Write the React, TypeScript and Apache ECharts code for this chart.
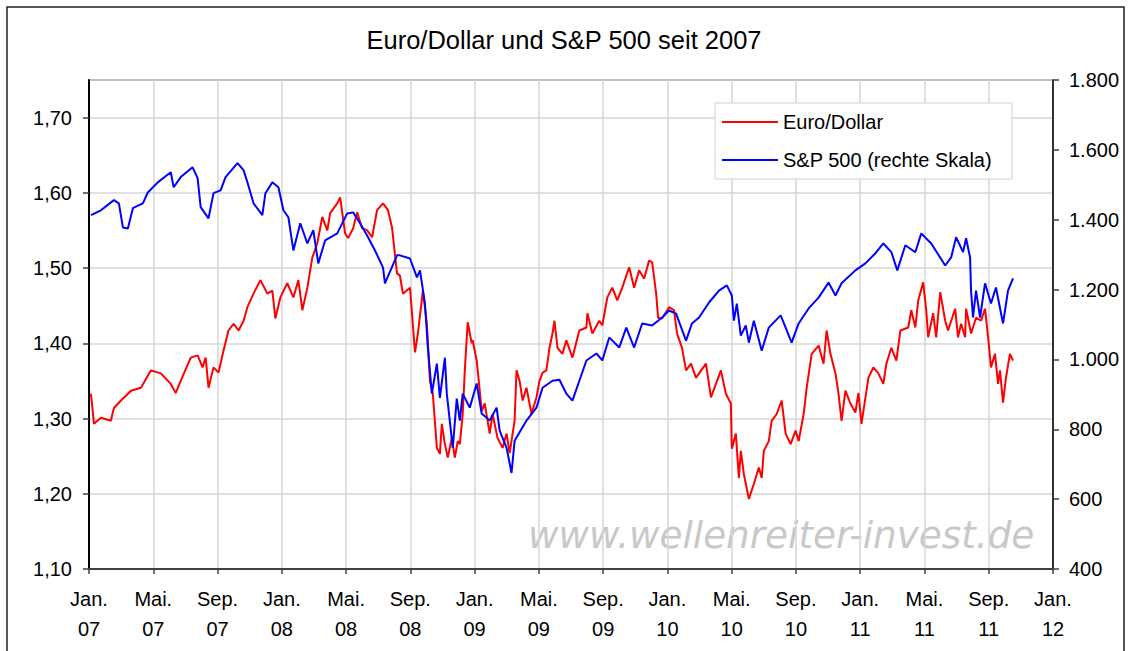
import React, { useEffect, useRef } from "react";
import * as echarts from "echarts";

const FONT = '"Liberation Sans", Arial, Helvetica, sans-serif';

const titleText = "Euro/Dollar und S&P 500 seit 2007";
const seriesNames = ["Euro/Dollar", "S&P 500 (rechte Skala)"];
const watermark = "www.wellenreiter-invest.de";

// x tick labels every 4 months, starting Jan. 2007 (x = months since Jan. 2007)
const xTickLabels = [
  "Jan.\n07", "Mai.\n07", "Sep.\n07",
  "Jan.\n08", "Mai.\n08", "Sep.\n08",
  "Jan.\n09", "Mai.\n09", "Sep.\n09",
  "Jan.\n10", "Mai.\n10", "Sep.\n10",
  "Jan.\n11", "Mai.\n11", "Sep.\n11",
  "Jan.\n12",
];

// Euro/Dollar: [months since Jan 2007, rate]
const eurUsd: [number, number][] = [
  [0.12, 1.333], [0.31, 1.293], [0.74, 1.301], [1.36, 1.297], [1.55, 1.314], [1.99, 1.324],
  [2.61, 1.337], [3.23, 1.341], [3.85, 1.364], [4.47, 1.36], [5.09, 1.346], [5.4, 1.334],
  [5.71, 1.35], [6.33, 1.381], [6.76, 1.384], [7.07, 1.368], [7.26, 1.381], [7.44, 1.341],
  [7.75, 1.368], [8.06, 1.361], [8.37, 1.39], [8.68, 1.417], [9.0, 1.426], [9.31, 1.417],
  [9.62, 1.43], [9.86, 1.448], [10.24, 1.466], [10.67, 1.484], [11.1, 1.466], [11.41, 1.47],
  [11.6, 1.433], [11.91, 1.461], [12.34, 1.48], [12.72, 1.461], [13.03, 1.484], [13.28, 1.444],
  [13.59, 1.474], [13.9, 1.514], [14.21, 1.533], [14.52, 1.568], [14.83, 1.55], [15.01, 1.573],
  [15.45, 1.586], [15.63, 1.594], [15.94, 1.546], [16.13, 1.54], [16.44, 1.553], [16.69, 1.574],
  [17.0, 1.553], [17.31, 1.55], [17.62, 1.541], [17.93, 1.577], [18.3, 1.586], [18.61, 1.577],
  [18.86, 1.554], [19.17, 1.493], [19.35, 1.49], [19.54, 1.466], [19.98, 1.474], [20.29, 1.388],
  [20.47, 1.413], [20.78, 1.47], [21.03, 1.426], [21.22, 1.35], [21.4, 1.333], [21.65, 1.261],
  [21.84, 1.253], [21.96, 1.293], [22.15, 1.266], [22.33, 1.248], [22.58, 1.274], [22.77, 1.248],
  [22.95, 1.27], [23.08, 1.266], [23.26, 1.306], [23.39, 1.364], [23.57, 1.428], [23.82, 1.4],
  [23.88, 1.404], [24.13, 1.377], [24.26, 1.35], [24.44, 1.31], [24.63, 1.32], [24.94, 1.28],
  [25.12, 1.306], [25.43, 1.274], [25.74, 1.261], [25.99, 1.28], [26.18, 1.254], [26.49, 1.297],
  [26.61, 1.364], [26.8, 1.35], [26.99, 1.324], [27.23, 1.341], [27.54, 1.306], [27.85, 1.328],
  [28.04, 1.35], [28.23, 1.361], [28.47, 1.364], [28.66, 1.394], [28.85, 1.413], [28.97, 1.43],
  [29.16, 1.394], [29.47, 1.386], [29.71, 1.404], [30.09, 1.381], [30.52, 1.417], [30.96, 1.421],
  [31.02, 1.44], [31.33, 1.413], [31.76, 1.43], [31.95, 1.424], [32.26, 1.461], [32.57, 1.474],
  [32.88, 1.457], [33.19, 1.474], [33.62, 1.501], [33.93, 1.474], [34.24, 1.497], [34.55, 1.486],
  [34.86, 1.51], [35.05, 1.508], [35.3, 1.466], [35.42, 1.434], [35.67, 1.433], [36.1, 1.448],
  [36.41, 1.444], [36.6, 1.413], [36.91, 1.394], [37.16, 1.364], [37.47, 1.373], [37.78, 1.354],
  [37.97, 1.36], [38.4, 1.373], [38.71, 1.328], [39.02, 1.346], [39.33, 1.364], [39.64, 1.333],
  [39.95, 1.32], [40.01, 1.26], [40.26, 1.28], [40.45, 1.221], [40.57, 1.257], [40.76, 1.226],
  [41.07, 1.193], [41.38, 1.213], [41.69, 1.235], [41.87, 1.221], [42.0, 1.257], [42.31, 1.27],
  [42.49, 1.297], [42.8, 1.306], [43.11, 1.324], [43.36, 1.28], [43.67, 1.266], [43.98, 1.284],
  [44.17, 1.27], [44.48, 1.306], [44.67, 1.341], [44.98, 1.386], [45.41, 1.397], [45.72, 1.373],
  [45.91, 1.417], [46.15, 1.386], [46.46, 1.36], [46.65, 1.333], [46.84, 1.297], [47.08, 1.337],
  [47.39, 1.32], [47.7, 1.308], [47.89, 1.334], [48.08, 1.293], [48.51, 1.354], [48.82, 1.368],
  [49.13, 1.36], [49.44, 1.346], [49.63, 1.373], [49.94, 1.394], [50.25, 1.377], [50.5, 1.417],
  [50.99, 1.421], [51.18, 1.444], [51.43, 1.421], [51.61, 1.457], [51.92, 1.481], [52.11, 1.444],
  [52.23, 1.408], [52.54, 1.44], [52.73, 1.408], [52.98, 1.468], [53.29, 1.43], [53.47, 1.417],
  [53.91, 1.446], [54.09, 1.408], [54.28, 1.426], [54.53, 1.408], [54.59, 1.446], [54.9, 1.413],
  [55.21, 1.434], [55.52, 1.43], [55.77, 1.446], [55.96, 1.408], [56.14, 1.368], [56.39, 1.386],
  [56.58, 1.346], [56.7, 1.364], [56.89, 1.321], [57.07, 1.354], [57.32, 1.386], [57.51, 1.377],
];

// S&P 500: [months since Jan 2007, index points]
const sp500: [number, number][] = [
  [0.12, 1413], [0.74, 1427], [1.55, 1456], [1.86, 1447], [2.11, 1378], [2.42, 1375],
  [2.73, 1433], [3.35, 1447], [3.66, 1478], [4.28, 1507], [5.09, 1536], [5.27, 1493],
  [5.71, 1522], [6.45, 1550], [6.76, 1519], [6.95, 1436], [7.44, 1404], [7.75, 1476],
  [8.19, 1484], [8.5, 1522], [9.24, 1562], [9.62, 1542], [9.86, 1507], [10.24, 1447],
  [10.79, 1413], [10.98, 1476], [11.41, 1507], [11.79, 1493], [12.1, 1427], [12.41, 1407],
  [12.72, 1312], [13.15, 1390], [13.59, 1332], [13.96, 1370], [14.27, 1275], [14.7, 1341],
  [15.45, 1361], [16.07, 1418], [16.44, 1421], [16.87, 1390], [17.37, 1350], [17.8, 1312],
  [18.3, 1263], [18.42, 1218], [19.17, 1298], [19.35, 1298], [19.98, 1289], [20.41, 1235],
  [20.6, 1255], [20.91, 1160], [21.09, 1034], [21.34, 902], [21.65, 988], [21.84, 890],
  [22.15, 1005], [22.27, 902], [22.64, 747], [22.89, 888], [23.08, 825], [23.26, 902],
  [23.7, 862], [24.13, 931], [24.44, 845], [24.94, 825], [25.37, 862], [25.56, 796],
  [25.99, 747], [26.3, 675], [26.49, 767], [27.23, 825], [27.85, 862], [28.23, 919],
  [28.85, 939], [29.28, 942], [29.71, 902], [30.09, 882], [30.52, 939], [30.96, 997],
  [31.58, 1017], [31.95, 997], [32.38, 1063], [33.0, 1034], [33.44, 1091], [33.93, 1034],
  [34.43, 1103], [35.05, 1097], [35.67, 1120], [36.1, 1140], [36.54, 1131], [37.16, 1054],
  [37.53, 1103], [37.97, 1120], [38.59, 1163], [39.21, 1197], [39.7, 1212], [40.01, 1183],
  [40.14, 1111], [40.32, 1160], [40.57, 1068], [40.88, 1097], [41.07, 1048], [41.38, 1111],
  [41.87, 1025], [42.31, 1091], [43.05, 1126], [43.36, 1091], [43.73, 1048], [44.17, 1103],
  [44.79, 1146], [45.41, 1177], [46.03, 1220], [46.46, 1183], [46.84, 1218], [47.7, 1255],
  [48.32, 1275], [48.95, 1304], [49.44, 1332], [49.94, 1307], [50.31, 1255], [50.81, 1327],
  [51.43, 1307], [51.8, 1361], [52.42, 1332], [53.29, 1269], [53.66, 1292], [53.97, 1350],
  [54.4, 1307], [54.59, 1347], [54.84, 1292], [54.9, 1197], [55.02, 1120], [55.21, 1197],
  [55.46, 1120], [55.77, 1218], [56.14, 1160], [56.45, 1206], [56.89, 1103], [57.2, 1197],
  [57.51, 1232],
];

function fmtLeft(v: number): string {
  return v.toFixed(2).replace(".", ",");
}
function fmtRight(v: number): string {
  const n = Math.round(v);
  return n >= 1000 ? `${Math.floor(n / 1000)}.${String(n % 1000).padStart(3, "0")}` : String(n);
}

export default function App() {
  const ref = useRef<HTMLDivElement>(null);

  useEffect(() => {
    if (!ref.current) return;
    const chart = echarts.init(ref.current, undefined, { renderer: "svg" });
    const gridColor = "#d6d6d6";
    chart.setOption({
      animation: false,
      backgroundColor: "#ffffff",
      title: {
        text: titleText,
        left: "center",
        top: 27,
        padding: 0,
        textStyle: { fontFamily: FONT, fontSize: 25.5, fontWeight: "normal", color: "#000" },
      },
      legend: {
        data: seriesNames,
        orient: "vertical",
        left: 715,
        top: 103,
        padding: [9, 20, 9, 7],
        itemGap: 18,
        itemWidth: 56,
        itemHeight: 2,
        icon: "rect",
        backgroundColor: "#ffffff",
        borderColor: "#d0d0d0",
        borderWidth: 1,
        borderRadius: 0,
        textStyle: { fontFamily: FONT, fontSize: 20, color: "#000" },
      },
      grid: {
        left: 89,
        right: 75,
        top: 80,
        bottom: 82,
        show: true,
        borderColor: "#000",
        borderWidth: 1,
        backgroundColor: "transparent",
      },
      xAxis: {
        type: "value",
        min: 0,
        max: 60,
        interval: 4,
        axisLine: { show: true, lineStyle: { color: "#404040", width: 2 } },
        axisTick: { show: true, length: 5, lineStyle: { color: "#404040", width: 1.5 } },
        axisLabel: {
          margin: 15,
          fontFamily: FONT,
          fontSize: 20,
          lineHeight: 30,
          color: "#000",
          formatter: (v: number) => xTickLabels[Math.round(v / 4)] ?? "",
        },
        splitLine: { show: true, lineStyle: { color: gridColor, width: 1.5 } },
      },
      yAxis: [
        {
          type: "value",
          position: "left",
          min: 1.1,
          max: 1.75,
          interval: 0.1,
          axisLine: { show: true, lineStyle: { color: "#000", width: 2 } },
          axisTick: { show: true, length: 6, lineStyle: { color: "#404040", width: 1.5 } },
          axisLabel: {
            margin: 17,
            fontFamily: FONT,
            fontSize: 20,
            color: "#000",
            showMaxLabel: false,
            formatter: fmtLeft,
          },
          splitLine: { show: true, lineStyle: { color: gridColor, width: 1.5 } },
        },
        {
          type: "value",
          position: "right",
          min: 400,
          max: 1800,
          interval: 200,
          axisLine: { show: true, lineStyle: { color: "#000", width: 1.5 } },
          axisTick: { show: true, length: 6, lineStyle: { color: "#404040", width: 1.5 } },
          axisLabel: {
            margin: 16,
            fontFamily: FONT,
            fontSize: 20,
            color: "#000",
            formatter: fmtRight,
          },
          splitLine: { show: false },
        },
      ],
      graphic: [
        {
          type: "text",
          x: 528,
          y: 535,
          z: -1,
          silent: true,
          style: {
            text: watermark,
            font: 'italic 37.3px "DejaVu Sans", Verdana, sans-serif',
            fill: "#c8c8c8",
            verticalAlign: "middle",
            align: "left",
          },
        },
        {
          type: "rect",
          silent: true,
          shape: { x: 7, y: 7, width: 1117, height: 700 },
          style: { fill: "none", stroke: "#222", lineWidth: 1.5 },
        },
      ],
      series: [
        {
          name: seriesNames[0],
          type: "line",
          yAxisIndex: 0,
          data: eurUsd,
          showSymbol: false,
          symbol: "none",
          lineStyle: { color: "#ff0000", width: 2 },
          itemStyle: { color: "#ff0000" },
        },
        {
          name: seriesNames[1],
          type: "line",
          yAxisIndex: 1,
          data: sp500,
          showSymbol: false,
          symbol: "none",
          lineStyle: { color: "#0000ff", width: 2 },
          itemStyle: { color: "#0000ff" },
        },
      ],
    });
    return () => chart.dispose();
  }, []);

  return (
    <div
      ref={ref}
      style={{ position: "absolute", left: 0, top: 0, width: 1128, height: 651 }}
    />
  );
}
